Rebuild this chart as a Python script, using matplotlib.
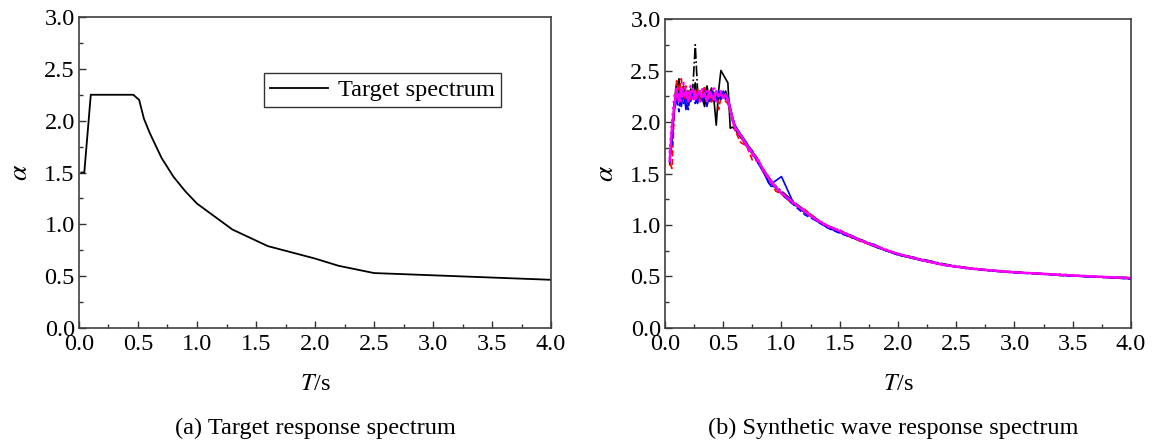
import numpy as np
import matplotlib.pyplot as plt
from matplotlib.ticker import MultipleLocator

plt.rcParams['font.family'] = ['Liberation Serif', 'DejaVu Serif']
plt.rcParams['mathtext.fontset'] = 'stix'
plt.rcParams['font.size'] = 17.5

# (a) target response spectrum
t_target = [0.02, 0.045, 0.1, 0.46, 0.51, 0.55, 0.6, 0.7, 0.8, 0.9, 1.0,
            1.3, 1.6, 2.0, 2.2, 2.5, 4.0]
a_target = [1.5, 1.5, 2.25, 2.25, 2.2, 2.02, 1.88, 1.64, 1.46, 1.32, 1.2,
            0.95, 0.79, 0.67, 0.6, 0.53, 0.465]

# (b) synthetic wave response spectra
t_syn = [0.04, 0.06, 0.08, 0.1, 0.12, 0.14, 0.16, 0.18, 0.2, 0.22, 0.24, 0.26,
         0.28, 0.3, 0.32, 0.34, 0.36, 0.38, 0.4, 0.42, 0.44, 0.46, 0.48, 0.5,
         0.52, 0.54, 0.56, 0.58, 0.6, 0.65, 0.7, 0.75, 0.8, 0.85, 0.9, 0.95,
         1.0, 1.1, 1.2, 1.3, 1.4, 1.5, 1.6, 1.7, 1.8, 1.9, 2.0, 2.2, 2.4, 2.6,
         2.8, 3.0, 3.2, 3.4, 3.6, 3.8, 4.0]

wave_k1 = [1.62, 1.9, 2.15, 2.3, 2.42, 2.2, 2.35, 2.28, 2.18, 2.32, 2.25, 2.38,
           2.2, 2.3, 2.24, 2.15, 2.3, 2.27, 2.33, 2.22, 1.97, 2.3, 2.5, 2.46,
           2.42, 2.38, 1.94, 1.95, 1.93, 1.85, 1.77, 1.69, 1.62, 1.53, 1.45, 1.36,
           1.31, 1.21, 1.12, 1.05, 0.98, 0.93, 0.88, 0.84, 0.79, 0.75, 0.71, 0.66,
           0.61, 0.58, 0.555, 0.54, 0.53, 0.51, 0.505, 0.49, 0.48]
wave_k2 = [1.58, 1.88, 2.2, 2.38, 2.28, 2.22, 2.32, 2.25, 2.3, 2.2, 2.35, 2.75,
           2.3, 2.25, 2.28, 2.2, 2.35, 2.24, 2.2, 2.3, 2.26, 2.22, 2.28, 2.25,
           2.3, 2.22, 2.1, 2.02, 1.96, 1.88, 1.79, 1.71, 1.64, 1.51, 1.43, 1.38,
           1.33, 1.23, 1.14, 1.06, 0.99, 0.95, 0.89, 0.85, 0.8, 0.76, 0.72, 0.67,
           0.62, 0.585, 0.56, 0.545, 0.525, 0.52, 0.5, 0.495, 0.49]
wave_b1 = [1.65, 1.8, 2.12, 2.2, 2.28, 2.15, 2.3, 2.12, 2.25, 2.2, 2.3, 2.22,
           2.18, 2.28, 2.2, 2.32, 2.15, 2.25, 2.3, 2.2, 2.28, 2.24, 2.26, 2.3,
           2.22, 2.25, 2.15, 2.05, 1.97, 1.88, 1.8, 1.7, 1.6, 1.5, 1.39, 1.43,
           1.47, 1.22, 1.14, 1.04, 0.97, 0.93, 0.9, 0.84, 0.81, 0.75, 0.72, 0.665,
           0.615, 0.58, 0.56, 0.54, 0.53, 0.515, 0.5, 0.495, 0.48]
wave_r1 = [1.6, 1.55, 2.1, 2.4, 2.3, 2.42, 2.2, 2.35, 2.28, 2.22, 2.3, 2.25,
           2.32, 2.2, 2.27, 2.35, 2.22, 2.3, 2.18, 2.25, 2.3, 2.12, 2.24, 2.27,
           2.2, 2.18, 2.1, 2.0, 1.92, 1.8, 1.77, 1.63, 1.62, 1.5, 1.44, 1.33,
           1.3, 1.2, 1.15, 1.06, 0.98, 0.94, 0.88, 0.83, 0.8, 0.75, 0.715, 0.66,
           0.61, 0.585, 0.56, 0.54, 0.53, 0.515, 0.505, 0.49, 0.48]
wave_b2 = [1.6, 1.78, 2.15, 2.25, 2.1, 2.3, 2.18, 2.25, 2.12, 2.3, 2.25, 2.18,
           2.25, 2.3, 2.2, 2.25, 2.3, 2.2, 2.25, 2.27, 2.2, 2.3, 2.22, 2.28,
           2.24, 2.2, 2.12, 2.04, 1.96, 1.86, 1.79, 1.72, 1.6, 1.52, 1.38, 1.37,
           1.3, 1.2, 1.1, 1.04, 0.97, 0.92, 0.88, 0.84, 0.79, 0.75, 0.71, 0.655,
           0.61, 0.575, 0.555, 0.535, 0.525, 0.51, 0.5, 0.49, 0.475]
wave_m1 = [1.7, 2.0, 2.25, 2.35, 2.25, 2.2, 2.38, 2.3, 2.25, 2.35, 2.2, 2.3,
           2.25, 2.2, 2.32, 2.26, 2.3, 2.22, 2.28, 2.35, 2.2, 2.25, 2.3, 2.22,
           2.27, 2.2, 2.1, 2.02, 1.93, 1.86, 1.76, 1.68, 1.61, 1.53, 1.45, 1.36,
           1.32, 1.21, 1.14, 1.05, 0.98, 0.95, 0.89, 0.845, 0.795, 0.76, 0.715,
           0.665, 0.615, 0.58, 0.555, 0.545, 0.525, 0.52, 0.505, 0.49, 0.485]
wave_m2 = [1.62, 1.95, 2.15, 2.3, 2.2, 2.33, 2.25, 2.3, 2.2, 2.28, 2.32, 2.22,
           2.27, 2.3, 2.24, 2.28, 2.2, 2.3, 2.26, 2.22, 2.3, 2.25, 2.27, 2.24,
           2.26, 2.22, 2.12, 2.03, 1.95, 1.87, 1.78, 1.7, 1.63, 1.52, 1.44, 1.37,
           1.31, 1.22, 1.13, 1.05, 0.99, 0.94, 0.89, 0.84, 0.8, 0.755, 0.72, 0.66,
           0.61, 0.58, 0.56, 0.54, 0.53, 0.515, 0.505, 0.495, 0.485]

waves = [(wave_k1, 'k', '-'), (wave_k2, 'k', '-.'), (wave_b1, 'b', '-'),
         (wave_r1, 'r', '--'), (wave_b2, 'b', '--'), (wave_m1, '#ff00ff', ':'),
         (wave_m2, '#ff00ff', '-')]

fig = plt.figure(figsize=(11.65, 4.43), dpi=100)
ax1 = fig.add_axes([0.0678, 0.2596, 0.4052, 0.7020])
ax2 = fig.add_axes([0.5708, 0.2596, 0.4000, 0.6975])

ax1.plot(t_target, a_target, color='k', lw=1.3, label='Target spectrum')
ax1.legend(loc='upper right', bbox_to_anchor=(0.894, 0.82), frameon=True,
           fancybox=False, edgecolor='k', handlelength=2.4, borderpad=0.25,
           handletextpad=0.4, borderaxespad=0).get_frame().set_linewidth(1.0)

for vals, c, ls in waves:
    lw = 1.7 if c == '#ff00ff' else 1.2
    ax2.plot(t_syn, vals, color=c, ls=ls, lw=lw)

for ax in (ax1, ax2):
    ax.set_xlim(0, 4.0)
    ax.set_ylim(0, 3.0)
    ax.xaxis.set_major_locator(MultipleLocator(0.5))
    ax.xaxis.set_minor_locator(MultipleLocator(0.25))
    ax.yaxis.set_major_locator(MultipleLocator(0.5))
    ax.yaxis.set_minor_locator(MultipleLocator(0.25))
    ax.xaxis.set_major_formatter(plt.FormatStrFormatter('%.1f'))
    ax.yaxis.set_major_formatter(plt.FormatStrFormatter('%.1f'))
    ax.tick_params(which='both', direction='in', color='#333333', width=1.0)
    ax.tick_params(axis='x', which='major', length=5, pad=4)
    ax.tick_params(axis='y', which='major', length=5, pad=3)
    ax.tick_params(which='minor', length=3)
    for sp in ax.spines.values():
        sp.set_color('#404040')
        sp.set_linewidth(1.2)
    ax.set_xlabel('$T$/s', labelpad=14)
    ax.set_ylabel(r'$\alpha$', fontsize=20, labelpad=8)

fig.text(0.2704, 0.034, '(a) Target response spectrum', ha='center', va='center')
fig.text(0.7665, 0.034, '(b) Synthetic wave response spectrum', ha='center', va='center')

fig.savefig('out.png', dpi=100)
